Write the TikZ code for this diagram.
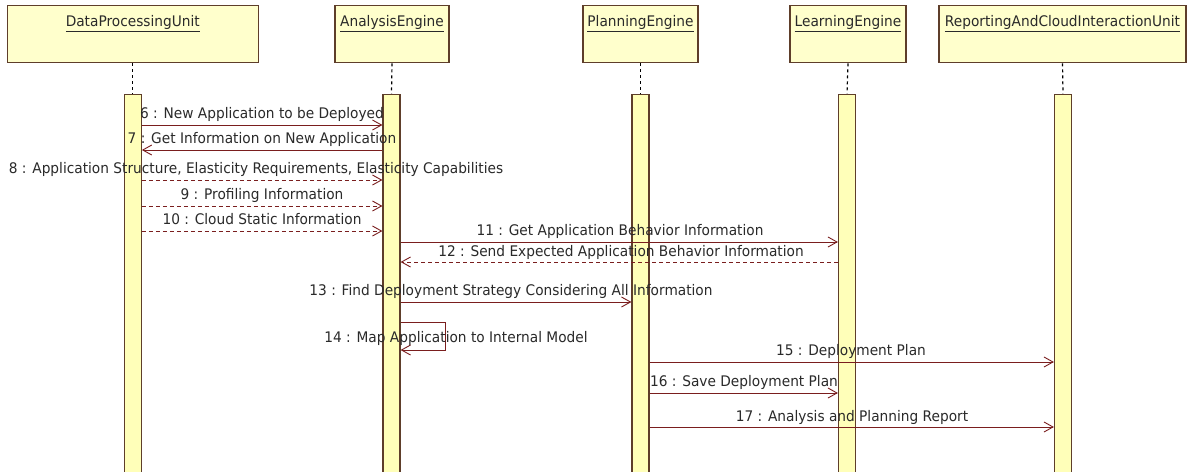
\documentclass[tikz,border=0pt]{standalone}
\usepackage{fontspec}
\setmainfont{DejaVu Sans}[FakeStretch=0.94]
\usetikzlibrary{arrows.meta}
\definecolor{boxfill}{HTML}{FFFFCC}
\definecolor{boxline}{HTML}{5E3E2A}
\definecolor{barfill}{HTML}{FFFFB9}
\definecolor{msgcol}{HTML}{7A1E1E}
\definecolor{txt}{HTML}{2A2A2A}
\begin{document}
\begin{tikzpicture}[x=1pt,y=-1pt,
  head/.style={draw=boxline, fill=boxfill, line width=1.3pt, minimum height=57pt, inner sep=0pt, anchor=north},
  hlabel/.style={anchor=base, inner sep=0pt, text=txt, font=\fontsize{14.6}{17}\selectfont},
  bar/.style={draw=boxline, fill=barfill, line width=1.2pt, minimum width=17pt, minimum height=400pt, anchor=north, inner sep=0pt},
  life/.style={draw=black, line width=1.2pt, dash pattern=on 3pt off 3pt},
  msg/.style={draw=msgcol, line width=0.9pt, -{Straight Barb[length=9pt,width=10pt,line width=0.9pt]}},
  reply/.style={msg, dash pattern=on 4pt off 3pt},
  mlabel/.style={anchor=base, inner sep=0pt, text=txt, font=\fontsize{14.6}{17}\selectfont}
]
\useasboundingbox[fill=white] (0,0) rectangle (1190,471);

% heads
\node[head, minimum width=251pt] (dpu) at (132.75,5) {};
\node[head, minimum width=114pt] (ae)  at (392,5) {};
\node[head, minimum width=115pt] (pe)  at (640.5,5) {};
\node[head, minimum width=116pt] (le)  at (848,5) {};
\node[head, minimum width=247pt] (rc)  at (1062.5,5) {};
\node[hlabel] (dpuL) at (132.75,26.5) {\underline{DataProcessingUnit}};
\node[hlabel] (aeL)  at (392,26.5) {\underline{AnalysisEngine}};
\node[hlabel] (peL)  at (640.5,26.5) {\underline{PlanningEngine}};
\node[hlabel] (leL)  at (848,26.5) {\underline{LearningEngine}};
\node[hlabel] (rcL)  at (1062.5,26.5) {\underline{ReportingAndCloudInteractionUnit}};

% activation bars
\node[bar] (dpuB) at (132.75,93.5) {};
\node[bar] (aeB)  at (391.5,93.5) {};
\node[bar] (peB)  at (640.5,93.5) {};
\node[bar] (leB)  at (847,93.5) {};
\node[bar] (rcB)  at (1063,93.5) {};

% lifelines
\draw[life] (dpu.south) -- (dpuB.north);
\draw[life] (ae.south) -- (aeB.north);
\draw[life] (pe.south) -- (peB.north);
\draw[life] (le.south) -- (leB.north);
\draw[life] (rc.south) -- (rcB.north);

% message levels
\coordinate (y6) at (0,125);
\coordinate (y7) at (0,150);
\coordinate (y8) at (0,180);
\coordinate (y9) at (0,206);
\coordinate (y10) at (0,231);
\coordinate (y11) at (0,242);
\coordinate (y12) at (0,262);
\coordinate (y13) at (0,302);
\coordinate (y14a) at (0,322);
\coordinate (y14b) at (0,350);
\coordinate (y15) at (0,362);
\coordinate (y16) at (0,393);
\coordinate (y17) at (0,427);

% messages
\draw[msg]   (dpuB.east |- y6)  -- (aeB.west |- y6);
\draw[msg]   (aeB.west |- y7)   -- (dpuB.east |- y7);
\draw[reply] (dpuB.east |- y8)  -- (aeB.west |- y8);
\draw[reply] (dpuB.east |- y9)  -- (aeB.west |- y9);
\draw[reply] (dpuB.east |- y10) -- (aeB.west |- y10);
\draw[msg]   (aeB.east |- y11)  -- (leB.west |- y11);
\draw[reply] (leB.west |- y12)  -- (aeB.east |- y12);
\draw[msg]   (aeB.east |- y13)  -- (peB.west |- y13);
\draw[msg]   (aeB.east |- y14a) -- ++(45,0) -- ++(0,28) -- (aeB.east |- y14b);
\draw[msg]   (peB.east |- y15)  -- (rcB.west |- y15);
\draw[msg]   (peB.east |- y16)  -- (leB.west |- y16);
\draw[msg]   (peB.east |- y17)  -- (rcB.west |- y17);

% message labels
\node[mlabel] (m6)  at (262,118) {6 : New Application to be Deployed};
\node[mlabel] (m7)  at (262,143) {7 : Get Information on New Application};
\node[mlabel] (m8)  at (256,173) {8 : Application Structure, Elasticity Requirements, Elasticity Capabilities};
\node[mlabel] (m9)  at (262,199) {9 : Profiling Information};
\node[mlabel] (m10) at (262,224) {10 : Cloud Static Information};
\node[mlabel] (m11) at (620,235) {11 : Get Application Behavior Information};
\node[mlabel] (m12) at (621,256) {12 : Send Expected Application Behavior Information};
\node[mlabel] (m13) at (511,295) {13 : Find Deployment Strategy Considering All Information};
\node[mlabel] (m14) at (456,342) {14 : Map Application to Internal Model};
\node[mlabel] (m15) at (851,355) {15 : Deployment Plan};
\node[mlabel] (m16) at (744,386) {16 : Save Deployment Plan};
\node[mlabel] (m17) at (852,421) {17 : Analysis and Planning Report};
\end{tikzpicture}
\end{document}
